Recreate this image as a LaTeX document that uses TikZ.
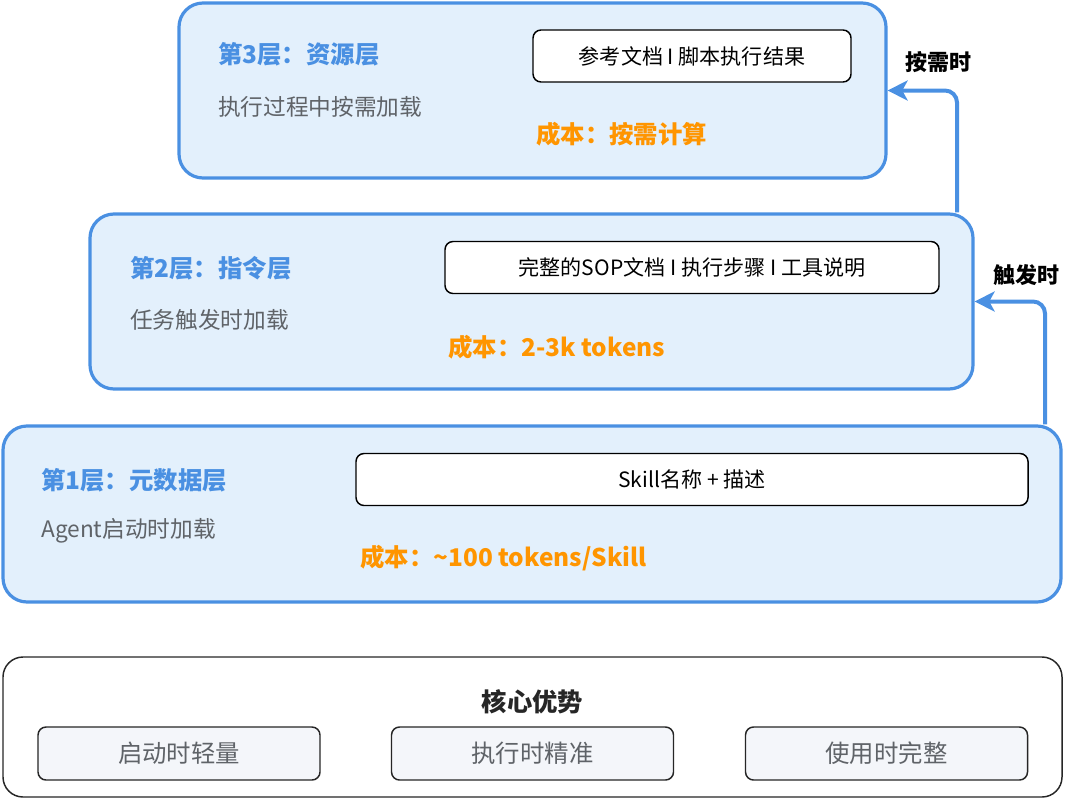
\documentclass[tikz,border=0pt]{standalone}
\usepackage{fontspec}
\setmainfont{Noto Sans CJK SC}
\usetikzlibrary{arrows.meta}
\definecolor{lblue}{HTML}{4A90E2}
\definecolor{lfill}{HTML}{E3F0FC}
\definecolor{lorange}{HTML}{FF9500}
\definecolor{lgrey}{HTML}{5F6368}
\definecolor{bfill}{HTML}{F4F6FA}
\begin{document}
\begin{tikzpicture}[x=0.75pt,y=-0.75pt,
  layer/.style={draw=lblue,fill=lfill,line width=2.4pt,rounded corners=18pt,inner sep=0pt},
  inbox/.style={draw=black,fill=white,line width=1.1pt,rounded corners=6pt,inner sep=0pt,
    minimum height=52*0.75pt,font=\fontsize{15.8}{18}\selectfont},
  ttl/.style={anchor=west,text=lblue,font=\fontsize{18.3}{21}\selectfont\bfseries,inner sep=0pt},
  sub/.style={anchor=west,text=lgrey,font=\fontsize{17}{20}\selectfont,inner sep=0pt},
  cost/.style={anchor=west,text=lorange,font=\fontsize{18.3}{21}\selectfont\bfseries,inner sep=0pt},
  flow/.style={draw=lblue,line width=3pt,rounded corners=9pt,
    -{Stealth[length=15pt,width=15pt,inset=4pt]}},
  lbl/.style={font=\fontsize{16.5}{20}\selectfont\bfseries,inner sep=0pt},
  adv/.style={draw=black!85,fill=bfill,line width=1.1pt,rounded corners=6pt,inner sep=0pt,
    minimum width=282*0.75pt,minimum height=53*0.75pt,text=lgrey,font=\fontsize{18.3}{21}\selectfont}]
\useasboundingbox (0,0) rectangle (1080,799);
% layer 3
\node[layer,minimum width=707*0.75pt,minimum height=175*0.75pt] (l3) at (532.5,90.5) {};
\node[inbox,minimum width=318*0.75pt] (b3) at (692,56) {参考文档 I 脚本执行结果};
\node[ttl] (t3) at (218,54) {第3层：资源层};
\node[sub] (s3) at (218,107) {执行过程中按需加载};
\node[cost] (c3) at (536,134) {成本：按需计算};
% layer 2
\node[layer,minimum width=883*0.75pt,minimum height=175*0.75pt] (l2) at (531.5,301.5) {};
\node[inbox,minimum width=494*0.75pt] (b2) at (692,267.5) {完整的SOP文档 I 执行步骤 I 工具说明};
\node[ttl] (t2) at (130,268) {第2层：指令层};
\node[sub] (s2) at (130,320) {任务触发时加载};
\node[cost] (c2) at (448,347) {成本：2-3k tokens};
% layer 1
\node[layer,minimum width=1058*0.75pt,minimum height=176*0.75pt] (l1) at (532,514) {};
\node[inbox,minimum width=672*0.75pt] (b1) at (692,479.5) {Skill名称 + 描述};
\node[ttl] (t1) at (41,480) {第1层：元数据层};
\node[sub] (s1) at (41,531) {Agent启动时加载};
\node[cost] (c1) at (360,558) {成本：\textasciitilde100 tokens/Skill};
% connectors
\coordinate (x1) at (1045,0);
\coordinate (x2) at (957,0);
\draw[flow] (x1 |- l1.north) |- (l2.east);
\draw[flow] (x2 |- l2.north) |- (l3.east);
\node[lbl] (a1) at (1026,275) {触发时};
\node[lbl] (a2) at (938,62) {按需时};
% bottom
\node[draw=black!85,fill=white,line width=1.1pt,rounded corners=15pt,inner sep=0pt,
  minimum width=1059*0.75pt,minimum height=140*0.75pt] (core) at (532.5,727) {};
\node[font=\fontsize{19}{22}\selectfont\bfseries,text=black!85,inner sep=0pt] (ct) at (532.5,702) {核心优势};
\node[adv] (d1) at (179,753.5) {启动时轻量};
\node[adv] (d2) at (532.5,753.5) {执行时精准};
\node[adv] (d3) at (886.5,753.5) {使用时完整};
\end{tikzpicture}
\end{document}
